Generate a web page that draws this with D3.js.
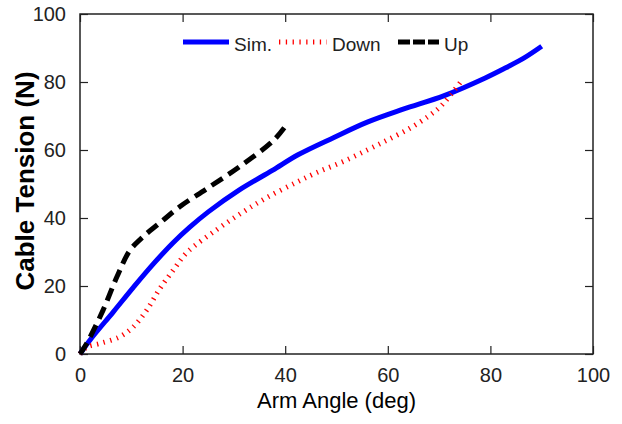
<!DOCTYPE html>
<html lang="en">
<head>
<meta charset="UTF-8">
<title>Cable Tension</title>
<script src="https://cdn.jsdelivr.net/npm/d3@7"></script>
<style>
  * { box-sizing: border-box; padding: 0; margin: 0; border: 0; }
  body { background: #fff; }
  text { font-family: "Liberation Sans", Arial, sans-serif; }
</style>
</head>
<body>
<svg width="622" height="424"></svg>
<script>
// arm angle (deg) / tension (N)
var simAngle = [0, 2, 6.5, 10.4, 14.3, 18.2, 21.4, 25, 31, 37.5, 42.5, 49.5, 56, 63, 71, 79, 83, 86.5, 90];
var simTension = [0, 4.2, 12.4, 19.6, 26.5, 32.8, 37.3, 41.8, 48.2, 54, 58.6, 63.7, 68.2, 72, 76, 81.2, 84.2, 87, 90.5];
var downAngle = [0, 1.3, 3.9, 7.8, 10.4, 13, 15.6, 18.2, 20.8, 26.6, 31.5, 36.4, 42.2, 46.2, 51, 56, 60, 64.3, 68, 70.2, 72.3, 74.7];
var downTension = [0, 2, 3.1, 5.1, 8, 12.9, 19.3, 24.7, 29.8, 36.5, 41.5, 46, 50.5, 53.4, 56.4, 60, 63, 66.4, 70, 72.7, 76.3, 81];
var upAngle = [0, 1.3, 4.5, 7.2, 9.7, 12.3, 15.6, 19.5, 24.7, 31.2, 37.7, 40];
var upTension = [0, 3.1, 12.9, 22.7, 30.4, 34.5, 38.6, 43.4, 48.6, 55.2, 62.8, 66.9];
var seriesNames = ["Sim.", "Down", "Up"];
var xTicks = [0, 20, 40, 60, 80, 100];
var yTicks = [0, 20, 40, 60, 80, 100];

var margin = { top: 14, right: 29, bottom: 70, left: 80 };
var width = 622 - margin.left - margin.right;
var height = 424 - margin.top - margin.bottom;

var svg = d3.select("svg");
var g = svg.append("g")
    .attr("transform", "translate(" + margin.left + "," + margin.top + ")");

var x = d3.scaleLinear().domain([0, 100]).range([0, width]);
var y = d3.scaleLinear().domain([0, 100]).range([height, 0]);

function zip(a, b) {
    return a.map(function (d, i) { return [d, b[i]]; });
}

var series = [
    { name: seriesNames[0], values: zip(simAngle, simTension), color: "#0000ff", w: 5, dash: null, legDash: null },
    { name: seriesNames[1], values: zip(downAngle, downTension), color: "#ff0000", w: 5, dash: "1.3,5.5", legDash: "1.3,5.5" },
    { name: seriesNames[2], values: zip(upAngle, upTension), color: "#000000", w: 5, dash: "13,7", legDash: "12,3" }
];

var line = d3.line()
    .x(function (d) { return x(d[0]); })
    .y(function (d) { return y(d[1]); })
    .curve(d3.curveCatmullRom.alpha(0.5));

// axes with inward ticks on all four sides (matlab style box)
function styleAxis(sel) {
    sel.select(".domain").remove();
    sel.selectAll(".tick line").attr("stroke", "#222").attr("stroke-width", 1.2);
    sel.selectAll(".tick text").attr("fill", "#222").style("font-size", "20px");
}
g.append("g")
    .attr("transform", "translate(0," + height + ")")
    .call(d3.axisBottom(x).tickValues(xTicks).tickSizeInner(-8).tickPadding(14))
    .call(styleAxis);
g.append("g")
    .call(d3.axisLeft(y).tickValues(yTicks).tickSizeInner(-8).tickPadding(14))
    .call(styleAxis);
g.append("g")
    .call(d3.axisTop(x).tickValues(xTicks).tickSizeInner(-8).tickFormat(""))
    .call(styleAxis);
g.append("g")
    .attr("transform", "translate(" + width + ",0)")
    .call(d3.axisRight(y).tickValues(yTicks).tickSizeInner(-8).tickFormat(""))
    .call(styleAxis);

g.append("rect")
    .attr("width", width)
    .attr("height", height)
    .attr("fill", "none")
    .attr("stroke", "#222")
    .attr("stroke-width", 1.5);

// curves
g.selectAll(".curve")
    .data(series)
    .enter()
    .append("path")
    .attr("class", "curve")
    .attr("d", function (d) { return line(d.values); })
    .attr("fill", "none")
    .attr("stroke", function (d) { return d.color; })
    .attr("stroke-width", function (d) { return d.w; })
    .attr("stroke-dasharray", function (d) { return d.dash; });

// legend
var legX = [103, 199, 318];
var legLen = [46, 48, 41];
var leg = g.selectAll(".leg")
    .data(series)
    .enter()
    .append("g")
    .attr("class", "leg")
    .attr("transform", function (d, i) { return "translate(" + legX[i] + ",28)"; });
leg.append("line")
    .attr("x1", 0)
    .attr("x2", function (d, i) { return legLen[i]; })
    .attr("stroke", function (d) { return d.color; })
    .attr("stroke-width", function (d) { return d.w; })
    .attr("stroke-dasharray", function (d) { return d.legDash; });
leg.append("text")
    .attr("x", function (d, i) { return legLen[i] + 5; })
    .attr("y", 9)
    .attr("fill", "#222")
    .style("font-size", "19px")
    .text(function (d) { return d.name; });

// axis titles
svg.append("text")
    .attr("x", margin.left + width / 2)
    .attr("y", 408)
    .attr("text-anchor", "middle")
    .style("font-size", "22px")
    .text("Arm Angle (deg)");
svg.append("text")
    .attr("transform", "translate(34,181) rotate(-90)")
    .attr("text-anchor", "middle")
    .style("font-size", "26px")
    .style("font-weight", "bold")
    .text("Cable Tension (N)");
</script>
</body>
</html>
